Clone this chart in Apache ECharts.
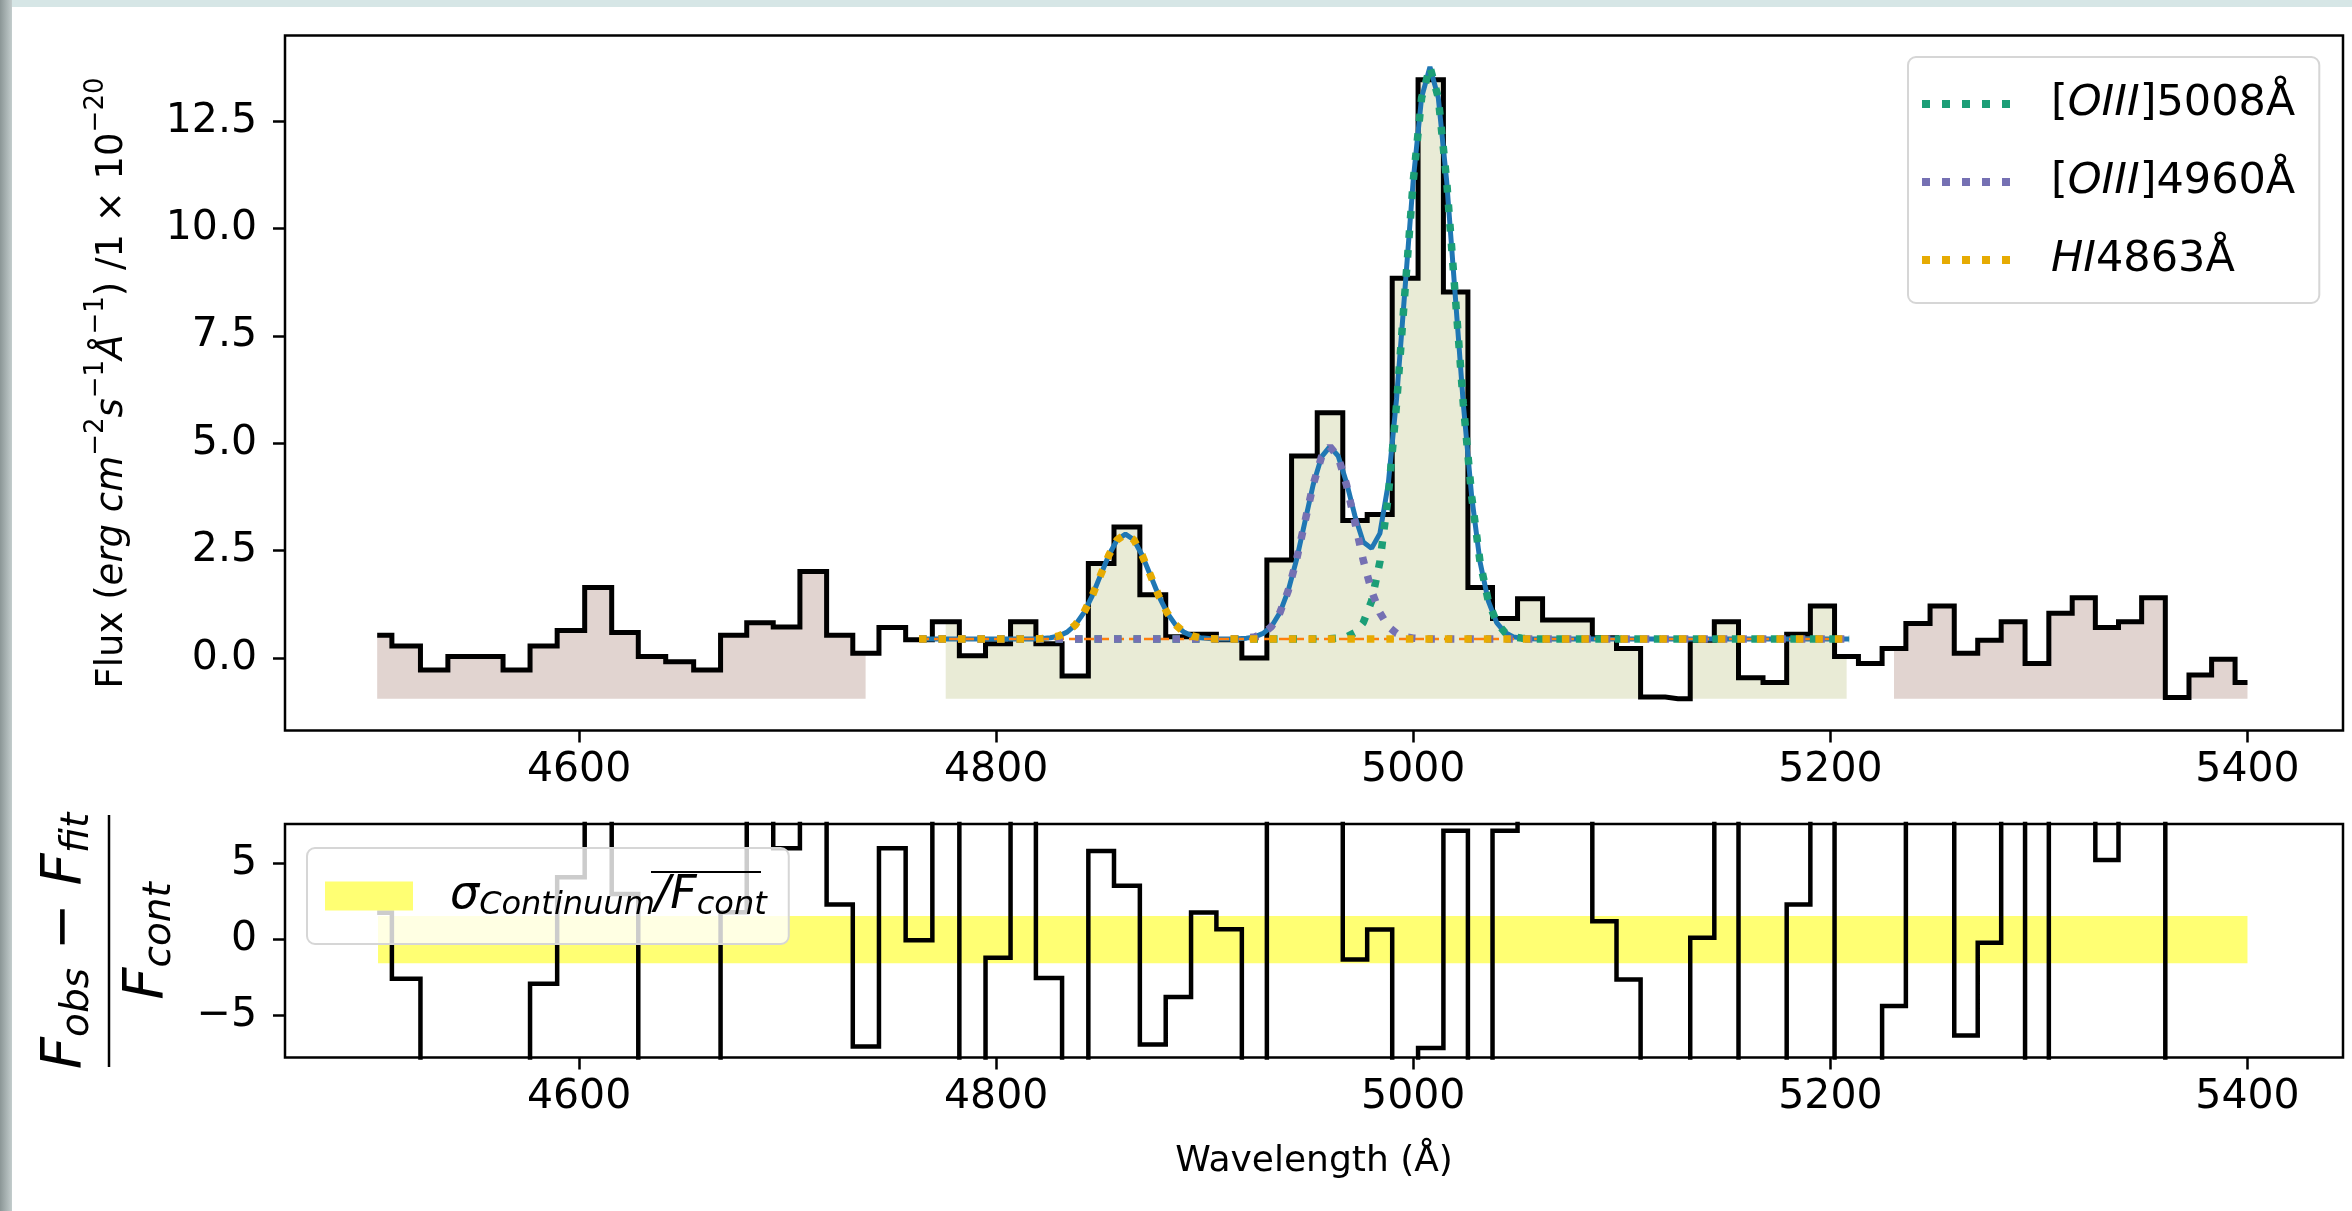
<!DOCTYPE html>
<html>
<head>
<meta charset="utf-8">
<script src="https://cdn.jsdelivr.net/npm/echarts@6.0.0/dist/echarts.min.js"></script>
<style>
  html, body { margin: 0; padding: 0; background: #fff; }
  #main { width: 2352px; height: 1211px; }
</style>
</head>
<body>
<div id="main"></div>
<script>
// spectrum around [OIII] / Hbeta, flux + fit + residuals

// bin centres (Angstrom) and observed flux
var wave = [4503.2, 4517.3, 4530.6, 4543.6, 4557.0, 4570.1, 4582.9, 4596.1, 4609.3, 4622.0,
  4634.8, 4648.3, 4661.6, 4674.1, 4686.7, 4699.5, 4712.3, 4725.1, 4737.4, 4750.2,
  4763.0, 4775.8, 4788.9, 4800.9, 4812.9, 4825.2, 4838.0, 4850.4, 4862.6, 4875.2,
  4887.4, 4899.5, 4911.7, 4923.9, 4935.7, 4947.6, 4960.3, 4972.1, 4983.7, 4996.1,
  5008.5, 5020.4, 5032.0, 5044.0, 5056.0, 5068.0, 5080.0, 5091.7, 5103.2, 5114.8,
  5126.9, 5138.7, 5150.0, 5161.9, 5173.5, 5184.6, 5196.2, 5207.8, 5219.1, 5230.5,
  5241.9, 5253.7, 5265.1, 5276.2, 5287.6, 5299.1, 5310.4, 5321.5, 5332.6, 5343.7,
  5354.8, 5366.4, 5377.5, 5388.1, 5400.0];
var flux = [0.53, 0.28, -0.28, 0.03, 0.03, -0.28, 0.28, 0.64, 1.64, 0.59,
  0.03, -0.09, -0.28, 0.53, 0.82, 0.72, 2.01, 0.53, 0.11, 0.71,
  0.42, 0.84, 0.05, 0.33, 0.84, 0.33, -0.42, 2.20, 3.05, 1.47,
  0.49, 0.55, 0.42, 0.00, 2.28, 4.70, 5.71, 3.20, 3.34, 8.84,
  13.46, 8.52, 1.64, 0.92, 1.38, 0.88, 0.88, 0.47, 0.22, -0.91,
  -0.95, 0.41, 0.84, -0.46, -0.57, 0.55, 1.21, 0.03, -0.13, 0.22,
  0.80, 1.21, 0.11, 0.41, 0.84, -0.13, 1.04, 1.40, 0.71, 0.84,
  1.40, -0.92, -0.40, -0.03, -0.57];
// (Fobs - Ffit)/Fcont, many off the plotted range
var resid = [1.76, -2.57, -16.2, -9.3, -9.3, -16.2, -2.9, 4.1, 26.4, 3.0,
  -9.3, -12.0, -16.2, 1.8, 8.2, 6.0, 34.7, 2.3, -7.03, 6.0,
  -0.04, 8.7, -8.9, -1.19, 8.7, -2.53, -19.3, 5.82, 3.54, -6.9,
  -3.78, 1.78, 0.68, -10.0, 32.4, 12.0, 17.6, -1.30, 0.66, -49.0,
  -7.12, 7.16, -13.3, 7.16, 20.4, 9.8, 9.8, 1.21, -2.62, -30.0,
  -31.0, 0.13, 8.9, -20.0, -22.4, 2.31, 17.0, -9.1, -12.8, -4.37,
  8.0, 17.0, -6.31, -0.20, 8.9, -12.8, 13.1, 21.1, 5.23, 8.9,
  21.1, -30.4, -18.9, -10.7, -22.7];

// fitted model curves
var totalWave = [4763, 4818, 4822, 4826, 4830, 4834, 4838, 4842, 4846, 4850, 4854, 4858, 4862,
  4866, 4870, 4874, 4878, 4882, 4886, 4890, 4894, 4898, 4902, 4906,
  4912, 4916, 4920, 4924, 4928, 4932, 4936, 4940, 4944, 4948, 4952, 4956, 4960, 4964,
  4968, 4972, 4976, 4980, 4984, 4988, 4992, 4996, 5000, 5004, 5008, 5012, 5016, 5020,
  5024, 5028, 5032, 5036, 5040, 5044, 5048, 5052, 5056, 5060, 5209];
var totalFit = [0.44, 0.44, 0.45, 0.47, 0.51, 0.60, 0.77, 1.05, 1.44, 1.92, 2.39, 2.75, 2.88,
  2.75, 2.39, 1.92, 1.44, 1.05, 0.77, 0.60, 0.51, 0.47, 0.45, 0.44,
  0.44, 0.445, 0.46, 0.49, 0.57, 0.73, 1.05, 1.56, 2.28, 3.16, 4.03, 4.68, 4.92, 4.70,
  4.08, 3.31, 2.70, 2.55, 2.90, 4.05, 6.04, 8.57, 11.13, 13.05, 13.76, 13.04, 11.11, 8.52,
  5.91, 3.76, 2.24, 1.32, 0.82, 0.59, 0.49, 0.46, 0.445, 0.44, 0.44];
var hiWave = [4763, 4818, 4822, 4826, 4830, 4834, 4838, 4842, 4846, 4850, 4854, 4858, 4862,
  4866, 4870, 4874, 4878, 4882, 4886, 4890, 4894, 4898, 4902, 4906, 5209];
var hiFit = [0.44, 0.44, 0.45, 0.47, 0.51, 0.60, 0.77, 1.05, 1.44, 1.92, 2.39, 2.75, 2.88,
  2.75, 2.39, 1.92, 1.44, 1.05, 0.77, 0.60, 0.51, 0.47, 0.45, 0.44, 0.44];
var o4960Wave = [4763, 4912, 4916, 4920, 4924, 4928, 4932, 4936, 4940, 4944, 4948, 4952, 4956,
  4960, 4964, 4968, 4972, 4976, 4980, 4984, 4988, 4992, 4996, 5000, 5004, 5008, 5209];
var o4960Fit = [0.44, 0.44, 0.445, 0.46, 0.49, 0.57, 0.73, 1.05, 1.56, 2.28, 3.16, 4.03, 4.68,
  4.92, 4.68, 4.03, 3.16, 2.28, 1.56, 1.05, 0.73, 0.57, 0.49, 0.46, 0.445, 0.44, 0.44];
var o5008Wave = [4763, 4956, 4960, 4964, 4968, 4972, 4976, 4980, 4984, 4988, 4992, 4996, 5000,
  5004, 5008, 5012, 5016, 5020, 5024, 5028, 5032, 5036, 5040, 5044, 5048, 5052, 5056, 5060, 5209];
var o5008Fit = [0.44, 0.44, 0.445, 0.46, 0.49, 0.59, 0.82, 1.32, 2.24, 3.76, 5.91, 8.52, 11.11,
  13.04, 13.76, 13.04, 11.11, 8.52, 5.91, 3.76, 2.24, 1.32, 0.82, 0.59, 0.49, 0.46, 0.445, 0.44, 0.44];
var contWave = [4763, 5209];
var contFit = [0.44, 0.44];

// sigma band in the residual panel
var bandWave = [4503.6, 5400];
var bandHigh = [1.55, 1.55];
var bandLow = -1.55;

// index ranges of the shaded windows (continuum, line, continuum)
var contWin1 = [0, 18];
var lineWin = [21, 57];
var contWin2 = [59, 74];
var fillFloor = -0.95;

var xTicks = [4600, 4800, 5000, 5200, 5400];
var yTicksTop = [0, 2.5, 5, 7.5, 10, 12.5];
var yTicksBot = [-5, 0, 5];

var FONT = 'DejaVu Sans';

function zip(xs, ys) {
  return xs.map(function (x, i) { return [x, ys[i]]; });
}
function win(r) {
  return zip(wave.slice(r[0], r[1] + 1), flux.slice(r[0], r[1] + 1));
}

var chart = echarts.init(document.getElementById('main'), null, { renderer: 'canvas' });

function xAxisCfg(idx, extra) {
  var a = {
    gridIndex: idx, type: 'value', min: 4459.0, max: 5445.8,
    axisLine: { show: false, onZero: false },
    splitLine: { show: false },
    axisTick: { show: true, customValues: xTicks, length: 12, lineStyle: { color: '#000', width: 2.5 } },
    axisLabel: {
      customValues: xTicks, fontSize: 41, fontFamily: FONT, color: '#000', margin: 19,
      formatter: function (v) { return String(v); }
    }
  };
  return Object.assign(a, extra || {});
}

// five square dots, like a matplotlib ':' handle
var dotIcon = 'path://M0,0h8v8h-8z M20,0h8v8h-8z M40,0h8v8h-8z M60,0h8v8h-8z M80,0h8v8h-8z';

var legendRich = {
  g: { width: 36, fontSize: 43 },
  r: { fontSize: 43, fontFamily: FONT, color: '#000' },
  i: { fontSize: 43, fontFamily: FONT, fontStyle: 'italic', color: '#000' }
};
var legendText = {
  '[OIII]5008Å': '{g|}{r|[}{i|OIII}{r|]5008Å}',
  '[OIII]4960Å': '{g|}{r|[}{i|OIII}{r|]4960Å}',
  'HI4863Å': '{g|}{i|HI}{r|4863Å}'
};

var dotted = [7.5, 12];

var option = {
  animation: false,
  backgroundColor: '#fff',
  grid: [
    { left: 285, right: 9, top: 35.5, height: 695, show: true, borderColor: '#000', borderWidth: 2.5, backgroundColor: 'transparent' },
    { left: 285, right: 9, top: 824, height: 233.5, show: true, borderColor: '#000', borderWidth: 2.5, backgroundColor: 'transparent' }
  ],
  xAxis: [
    xAxisCfg(0),
    xAxisCfg(1, {
      name: 'Wavelength (Å)', nameLocation: 'middle', nameGap: 86,
      nameTextStyle: { fontSize: 36, fontFamily: FONT, color: '#000' }
    })
  ],
  yAxis: [
    {
      gridIndex: 0, type: 'value', min: -1.69, max: 14.49,
      axisLine: { show: false, onZero: false },
      splitLine: { show: false },
      axisTick: { show: true, customValues: yTicksTop, length: 12, lineStyle: { color: '#000', width: 2.5 } },
      axisLabel: {
        customValues: yTicksTop, fontSize: 41, fontFamily: FONT, color: '#000', margin: 28,
        formatter: function (v) { return v.toFixed(1); }
      },
      name: '{n|Flux (}{i|erg cm}{sup|−2}{i|s}{sup|−1}{i|Å}{sup|−1}{n|) /1 × 10}{sup|−20}',
      nameLocation: 'middle', nameRotate: 90, nameGap: 154,
      nameTextStyle: {
        rich: {
          n: { fontSize: 37, fontFamily: FONT, color: '#000', lineHeight: 48, verticalAlign: 'bottom' },
          i: { fontSize: 37, fontFamily: FONT, fontStyle: 'italic', color: '#000', lineHeight: 48, verticalAlign: 'bottom' },
          sup: { fontSize: 26, fontFamily: FONT, color: '#000', verticalAlign: 'top', lineHeight: 26 }
        }
      }
    },
    {
      gridIndex: 1, type: 'value', min: -7.75, max: 7.6,
      axisLine: { show: false, onZero: false },
      splitLine: { show: false },
      axisTick: { show: true, customValues: yTicksBot, length: 12, lineStyle: { color: '#000', width: 2.5 } },
      axisLabel: {
        customValues: yTicksBot, fontSize: 41, fontFamily: FONT, color: '#000', margin: 28,
        formatter: function (v) { return v < 0 ? '−' + Math.abs(v) : String(v); }
      }
    }
  ],
  legend: [
    {
      data: [
        { name: '[OIII]5008Å', icon: dotIcon, itemStyle: { color: '#1b9e77' } },
        { name: '[OIII]4960Å', icon: dotIcon, itemStyle: { color: '#7570b3' } },
        { name: 'HI4863Å', icon: dotIcon, itemStyle: { color: '#e6ab02' } }
      ],
      orient: 'vertical', left: 1908, top: 57,
      itemWidth: 88, itemHeight: 8, itemGap: 28,
      padding: [22, 24, 18, 14],
      backgroundColor: 'rgba(255,255,255,0.8)',
      borderColor: '#d6d6d6', borderWidth: 2, borderRadius: 8,
      selectedMode: false,
      textStyle: { fontSize: 43, fontFamily: FONT, lineHeight: 50, rich: legendRich },
      formatter: function (name) { return legendText[name]; }
    },
    {
      data: [{ name: 'sigma', icon: 'rect', itemStyle: { color: 'rgba(255,255,0,0.55)' } }],
      orient: 'vertical', left: 307, top: 848,
      itemWidth: 88, itemHeight: 29,
      padding: [22, 22, 22, 18],
      backgroundColor: 'rgba(255,255,255,0.8)',
      borderColor: '#d6d6d6', borderWidth: 2, borderRadius: 8,
      selectedMode: false,
      textStyle: {
        fontSize: 44, fontFamily: FONT, lineHeight: 52,
        rich: {
          g: { width: 32, fontSize: 44 },
          i: { fontSize: 46, fontFamily: FONT, fontStyle: 'italic', color: '#000', lineHeight: 52, verticalAlign: 'middle' },
          s: { fontSize: 32, fontFamily: FONT, fontStyle: 'italic', color: '#000', lineHeight: 40, verticalAlign: 'bottom' }
        }
      },
      formatter: function () { return '{g|}{i|σ}{s|Continuum}{i|/F}{s|cont}'; }
    }
  ],
  graphic: [
    // window chrome around the screenshot
    { type: 'rect', left: 0, top: 0, shape: { width: 2352, height: 7 }, style: { fill: '#d6e6e6' }, silent: true },
    {
      type: 'rect', left: 0, top: 0, shape: { width: 12, height: 1211 }, silent: true,
      style: { fill: new echarts.graphic.LinearGradient(0, 0, 1, 0, [{ offset: 0, color: '#8b9696' }, { offset: 1, color: '#c3cdcd' }]) }
    },
    // residual panel y label as a fraction
    {
      type: 'group', x: 109, y: 941, rotation: Math.PI / 2, silent: true,
      children: [
        {
          type: 'text', x: 0, y: -44,
          style: {
            text: '{F|F}{s|obs}{m| − }{F|F}{s|fit}', align: 'center', verticalAlign: 'middle',
            textAlign: 'center', textVerticalAlign: 'middle',
            rich: {
              F: { fontSize: 56, fontFamily: FONT, fontStyle: 'italic', fill: '#000', lineHeight: 64, verticalAlign: 'middle' },
              m: { fontSize: 56, fontFamily: FONT, fill: '#000', lineHeight: 64, verticalAlign: 'middle' },
              s: { fontSize: 39, fontFamily: FONT, fontStyle: 'italic', fill: '#000', lineHeight: 50, verticalAlign: 'bottom' }
            }
          }
        },
        { type: 'line', shape: { x1: -126, y1: 0, x2: 126, y2: 0 }, style: { stroke: '#000', lineWidth: 2.5 } },
        {
          type: 'text', x: 0, y: 38,
          style: {
            text: '{F|F}{s|cont}', align: 'center', verticalAlign: 'middle',
            textAlign: 'center', textVerticalAlign: 'middle',
            rich: {
              F: { fontSize: 56, fontFamily: FONT, fontStyle: 'italic', fill: '#000', lineHeight: 64, verticalAlign: 'middle' },
              s: { fontSize: 39, fontFamily: FONT, fontStyle: 'italic', fill: '#000', lineHeight: 50, verticalAlign: 'bottom' }
            }
          }
        }
      ]
    },
    // bar over F_cont in the residual legend
    { type: 'line', z: 100, shape: { x1: 651, y1: 872, x2: 761, y2: 872 }, style: { stroke: '#000', lineWidth: 2 }, silent: true }
  ],
  series: [
    {
      name: 'cont1', type: 'line', step: 'middle', data: win(contWin1), symbol: 'none',
      lineStyle: { opacity: 0 }, areaStyle: { color: '#e1d4d0', opacity: 1, origin: fillFloor }
    },
    {
      name: 'linewin', type: 'line', step: 'middle', data: win(lineWin), symbol: 'none',
      lineStyle: { opacity: 0 }, areaStyle: { color: '#e9ebd6', opacity: 1, origin: fillFloor }
    },
    {
      name: 'cont2', type: 'line', step: 'middle', data: win(contWin2), symbol: 'none',
      lineStyle: { opacity: 0 }, areaStyle: { color: '#e1d4d0', opacity: 1, origin: fillFloor }
    },
    {
      name: 'flux', type: 'line', step: 'middle', data: zip(wave, flux), symbol: 'none',
      lineStyle: { color: '#000', width: 5, join: 'miter' }
    },
    {
      name: 'total', type: 'line', data: zip(totalWave, totalFit), symbol: 'none',
      lineStyle: { color: '#1f77b4', width: 5 }
    },
    {
      name: 'continuum', type: 'line', data: zip(contWave, contFit), symbol: 'none',
      lineStyle: { color: '#ff7f0e', width: 2.5, type: [10, 5] }
    },
    {
      name: '[OIII]5008Å', type: 'line', data: zip(o5008Wave, o5008Fit), symbol: 'none',
      itemStyle: { color: '#1b9e77' },
      lineStyle: { color: '#1b9e77', width: 7.5, type: dotted, cap: 'butt' }
    },
    {
      name: '[OIII]4960Å', type: 'line', data: zip(o4960Wave, o4960Fit), symbol: 'none',
      itemStyle: { color: '#7570b3' },
      lineStyle: { color: '#7570b3', width: 7.5, type: dotted, cap: 'butt' }
    },
    {
      name: 'HI4863Å', type: 'line', data: zip(hiWave, hiFit), symbol: 'none',
      itemStyle: { color: '#e6ab02' },
      lineStyle: { color: '#e6ab02', width: 7.5, type: dotted, cap: 'butt' }
    },
    {
      name: 'sigma', type: 'line', xAxisIndex: 1, yAxisIndex: 1, data: zip(bandWave, bandHigh), symbol: 'none',
      itemStyle: { color: 'rgba(255,255,0,0.55)' },
      lineStyle: { opacity: 0 }, areaStyle: { color: 'rgba(255,255,0,0.55)', opacity: 1, origin: bandLow }
    },
    {
      name: 'resid', type: 'line', xAxisIndex: 1, yAxisIndex: 1, step: 'middle', data: zip(wave, resid), symbol: 'none',
      lineStyle: { color: '#000', width: 4.5, join: 'miter' }
    }
  ]
};

chart.setOption(option);
</script>
</body>
</html>
